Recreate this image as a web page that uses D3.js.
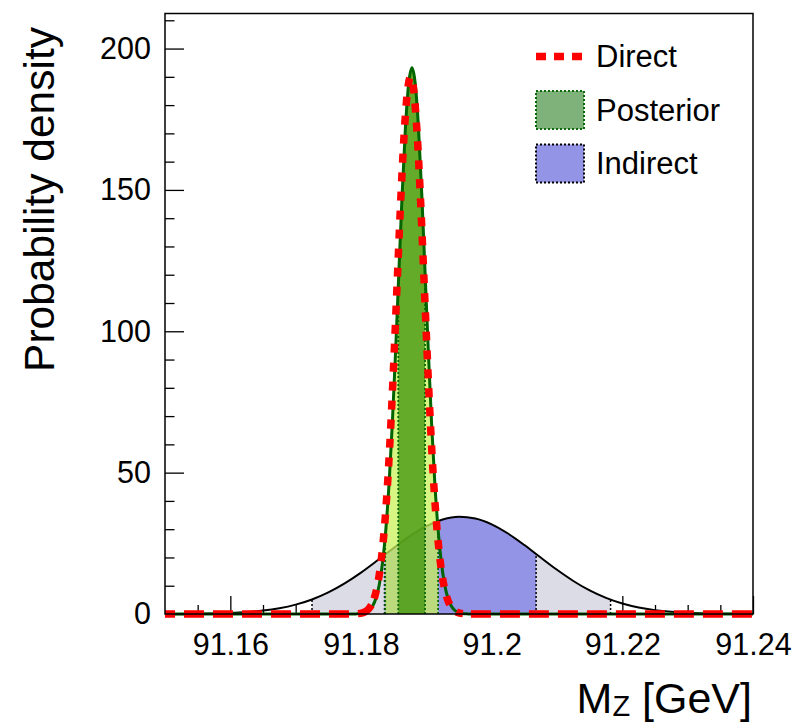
<!DOCTYPE html>
<html>
<head>
<meta charset="utf-8">
<script src="https://cdn.jsdelivr.net/npm/d3@7"></script>
<style>
  html, body { margin: 0; padding: 0; background: #fff; }
  svg { display: block; font-family: "Liberation Sans", Arial, Helvetica, sans-serif; }
</style>
</head>
<body>
<svg id="chart" width="796" height="722"></svg>
<script>
// ---------------- data ----------------
const xDomain = [91.15, 91.24];
const yDomain = [0, 212.4];

const xMajorTicks = [91.16, 91.18, 91.2, 91.22, 91.24];
const xMajorLabels = ["91.16", "91.18", "91.2", "91.22", "91.24"];
const xMinorTicks = [91.155, 91.165, 91.17, 91.175, 91.185, 91.19, 91.195, 91.205, 91.21, 91.215, 91.225, 91.23, 91.235];
const yMajorTicks = [0, 50, 100, 150, 200];
const yMajorLabels = ["0", "50", "100", "150", "200"];
const yMinorTicks = [10, 20, 30, 40, 60, 70, 80, 90, 110, 120, 130, 140, 160, 170, 180, 190, 210];

// Indirect determination of M_Z (broad curve)
const indirectX = [91.150, 91.1525, 91.155, 91.1575, 91.160, 91.1625, 91.165, 91.1675, 91.170, 91.1725,
                   91.175, 91.1775, 91.180, 91.1825, 91.185, 91.1875, 91.190, 91.1925, 91.195, 91.1975,
                   91.200, 91.2025, 91.205, 91.2075, 91.210, 91.2125, 91.215, 91.2175, 91.220, 91.2225,
                   91.225, 91.2275, 91.230, 91.2325, 91.235, 91.2375, 91.240];
const indirectY = [0.02, 0.04, 0.09, 0.19, 0.36, 0.68, 1.20, 2.04, 3.32, 5.15,
                   7.64, 10.82, 14.63, 18.91, 23.35, 27.54, 31.05, 33.43, 34.39, 33.80,
                   31.73, 28.47, 24.40, 19.97, 15.63, 11.68, 8.33, 5.69, 3.71, 2.30,
                   1.37, 0.78, 0.42, 0.22, 0.11, 0.05, 0.02];

// Posterior (narrow, filled green)
const posteriorX = [91.150, 91.1788, 91.1793, 91.1798, 91.1803, 91.1808, 91.1813, 91.1818, 91.1823, 91.1828,
                    91.1833, 91.1838, 91.1843, 91.1848, 91.1853, 91.1858, 91.1863, 91.1868, 91.1873, 91.1878,
                    91.1883, 91.1888, 91.1893, 91.1898, 91.1903, 91.1908, 91.1913, 91.1918, 91.1923, 91.1928,
                    91.1933, 91.1938, 91.1943, 91.1948, 91.1953, 91.1958, 91.1963, 91.1968, 91.240];
const posteriorY = [0, 0.015, 0.042, 0.11, 0.27, 0.64, 1.40, 2.90, 5.67, 10.46,
                    18.20, 29.88, 46.29, 67.62, 93.20, 121.17, 148.60, 171.93, 187.65, 193.2,
                    187.65, 171.93, 148.60, 121.17, 93.20, 67.62, 46.29, 29.88, 18.20, 10.46,
                    5.67, 2.90, 1.40, 0.64, 0.27, 0.11, 0.042, 0.015, 0];

// Direct measurement (red dashed)
const directX = [91.150, 91.1786, 91.1791, 91.1796, 91.1801, 91.1806, 91.1811, 91.1816, 91.1821, 91.1826,
                 91.1831, 91.1836, 91.1841, 91.1846, 91.1851, 91.1856, 91.1861, 91.1866, 91.1871, 91.1876,
                 91.1881, 91.1886, 91.1891, 91.1896, 91.1901, 91.1906, 91.1911, 91.1916, 91.1921, 91.1926,
                 91.1931, 91.1936, 91.1941, 91.1946, 91.1951, 91.1956, 91.1961, 91.1966, 91.240];
const directY = [0, 0.019, 0.053, 0.13, 0.32, 0.74, 1.58, 3.21, 6.15, 11.16,
                 19.13, 30.97, 47.38, 68.48, 93.54, 120.73, 147.22, 169.63, 184.69, 190.0,
                 184.69, 169.63, 147.22, 120.73, 93.54, 68.48, 47.38, 30.97, 19.13, 11.16,
                 6.15, 3.21, 1.58, 0.74, 0.32, 0.13, 0.053, 0.019, 0];

// credibility intervals (band edges)
const indirectBand95 = [91.1725, 91.2182];
const indirectBand68 = [91.1836, 91.2068];
const posteriorBand95 = [91.1837, 91.1918];
const posteriorBand68 = [91.1857, 91.1898];

const legendLabels = ["Direct", "Posterior", "Indirect"];
const xTitle = "M";
const xTitleSub = "Z";
const xTitleUnit = " [GeV]";
const yTitle = "Probability density";

// ---------------- drawing ----------------
const svg = d3.select("#chart");
const L = 165, R = 753, T = 13.5, B = 614;
const x = d3.scaleLinear().domain(xDomain).range([L, R]);
const y = d3.scaleLinear().domain(yDomain).range([B, T]);

const zip = (xs, ys) => xs.map((v, i) => [v, ys[i]]);
const indirect = zip(indirectX, indirectY);
const posterior = zip(posteriorX, posteriorY);
const direct = zip(directX, directY);

function yAt(data, xv) {
  const i = d3.bisector(d => d[0]).left(data, xv);
  if (i <= 0) return data[0][1];
  if (i >= data.length) return data[data.length - 1][1];
  const a = data[i - 1], b = data[i];
  const t = (xv - a[0]) / (b[0] - a[0]);
  return a[1] + t * (b[1] - a[1]);
}

const defs = svg.append("defs");
let clipId = 0;
function clipRect(x0, x1) {
  const id = "clip" + (clipId++);
  defs.append("clipPath").attr("id", id).append("rect")
    .attr("x", x(x0)).attr("y", T - 10).attr("width", x(x1) - x(x0)).attr("height", B - T + 20);
  return "url(#" + id + ")";
}

const area = d3.area().x(d => x(d[0])).y0(y(0)).y1(d => y(d[1])).curve(d3.curveMonotoneX);
const line = d3.line().x(d => x(d[0])).y(d => y(d[1])).curve(d3.curveMonotoneX);

// axes (ticks inside)
const gx = svg.append("g").attr("transform", `translate(0,${B})`);
gx.call(d3.axisBottom(x).tickValues(xMinorTicks).tickSize(-9).tickFormat(""));
gx.select(".domain").remove();
const gx2 = svg.append("g").attr("transform", `translate(0,${B})`);
gx2.call(d3.axisBottom(x).tickValues(xMajorTicks).tickSize(-18).tickPadding(19)
  .tickFormat((d, i) => xMajorLabels[i]));
gx2.select(".domain").remove();

const gy = svg.append("g").attr("transform", `translate(${L},0)`);
gy.call(d3.axisLeft(y).tickValues(yMinorTicks).tickSize(-9.5).tickFormat(""));
gy.select(".domain").remove();
const gy2 = svg.append("g").attr("transform", `translate(${L},0)`);
gy2.call(d3.axisLeft(y).tickValues(yMajorTicks).tickSize(-19).tickPadding(14)
  .tickFormat((d, i) => yMajorLabels[i]));
gy2.select(".domain").remove();

svg.selectAll(".tick line").attr("stroke", "#000").attr("stroke-width", 1.3);
svg.selectAll(".tick text").attr("font-size", 30.5).attr("fill", "#000")
  .attr("font-family", "'Liberation Sans', Arial, sans-serif");

const plot = svg.append("g");

// indirect bands
plot.append("path").datum(indirect).attr("d", area).attr("fill", "#dcdce7")
  .attr("clip-path", clipRect(indirectBand95[0], indirectBand95[1]));
plot.append("path").datum(indirect).attr("d", area).attr("fill", "#9494e6")
  .attr("clip-path", clipRect(indirectBand68[0], indirectBand68[1]));
[...indirectBand95, ...indirectBand68].forEach(v => {
  plot.append("line").attr("x1", x(v)).attr("x2", x(v)).attr("y1", y(0)).attr("y2", y(yAt(indirect, v)))
    .attr("stroke", "#000").attr("stroke-width", 1.5).attr("stroke-dasharray", "2 2");
});
plot.append("path").datum(indirect).attr("d", line).attr("fill", "none")
  .attr("stroke", "#000").attr("stroke-width", 2);

// posterior bands (semi-transparent)
plot.append("path").datum(posterior).attr("d", area).attr("fill", "rgb(200,242,90)").attr("fill-opacity", 0.75)
  .attr("clip-path", clipRect(posteriorBand95[0], posteriorBand95[1]));
plot.append("path").datum(posterior).attr("d", area).attr("fill", "rgb(60,145,10)").attr("fill-opacity", 0.75)
  .attr("clip-path", clipRect(posteriorBand68[0], posteriorBand68[1]));
[...posteriorBand95, ...posteriorBand68].forEach(v => {
  plot.append("line").attr("x1", x(v)).attr("x2", x(v)).attr("y1", y(0)).attr("y2", y(yAt(posterior, v)))
    .attr("stroke", "#0a6a0a").attr("stroke-width", 1.8).attr("stroke-dasharray", "2 2");
});
plot.append("path").datum(posterior).attr("d", line).attr("fill", "none")
  .attr("stroke", "#006400").attr("stroke-width", 3);

// direct (red dashed); flat tails and peak drawn as separate pieces of the same series
const splitL = 91.1816, splitR = 91.1956;
const dLeft = direct.filter(d => d[0] <= splitL);
const dMid = direct.filter(d => d[0] >= splitL && d[0] <= splitR);
const dRight = direct.filter(d => d[0] >= splitR);
const red = "#ff0000";
plot.append("path").datum(dLeft).attr("d", line).attr("fill", "none").attr("stroke", red)
  .attr("stroke-width", 7.5).attr("stroke-dasharray", "20 9").attr("stroke-dashoffset", 10);
plot.append("path").datum(dMid).attr("d", line).attr("fill", "none").attr("stroke", red)
  .attr("stroke-width", 7.5).attr("stroke-dasharray", "9 10").attr("stroke-dashoffset", 12);
plot.append("path").datum(dRight).attr("d", line).attr("fill", "none").attr("stroke", red)
  .attr("stroke-width", 7.5).attr("stroke-dasharray", "20 9").attr("stroke-dashoffset", 21);

// frame
svg.append("rect").attr("x", L).attr("y", T).attr("width", R - L).attr("height", B - T)
  .attr("fill", "none").attr("stroke", "#000").attr("stroke-width", 1.5);

// legend
const lg = svg.append("g");
lg.append("line").attr("x1", 536).attr("x2", 584).attr("y1", 56.5).attr("y2", 56.5)
  .attr("stroke", red).attr("stroke-width", 7.5).attr("stroke-dasharray", "10 8");
lg.append("rect").attr("x", 536).attr("y", 91).attr("width", 48).attr("height", 38)
  .attr("fill", "#7fb27b").attr("stroke", "#0a6a0a").attr("stroke-width", 2).attr("stroke-dasharray", "2 2");
lg.append("rect").attr("x", 536).attr("y", 144.5).attr("width", 48).attr("height", 38)
  .attr("fill", "#9494e6").attr("stroke", "#000").attr("stroke-width", 2).attr("stroke-dasharray", "2 2");
const legY = [67, 120.5, 174];
legendLabels.forEach((t, i) => {
  lg.append("text").attr("x", 596).attr("y", legY[i]).attr("font-size", 31).attr("fill", "#000").text(t);
});

// axis titles
const xt = svg.append("text").attr("x", 752).attr("y", 713).attr("text-anchor", "end")
  .attr("font-size", 43).attr("fill", "#000");
xt.append("tspan").text(xTitle);
xt.append("tspan").attr("font-size", 29).attr("dy", 3).text(xTitleSub);
xt.append("tspan").attr("dy", -3).text(xTitleUnit);

svg.append("text").attr("transform", "translate(54,27) rotate(-90)").attr("text-anchor", "end")
  .attr("font-size", 42.5).attr("fill", "#000").text(yTitle);
</script>
</body>
</html>
